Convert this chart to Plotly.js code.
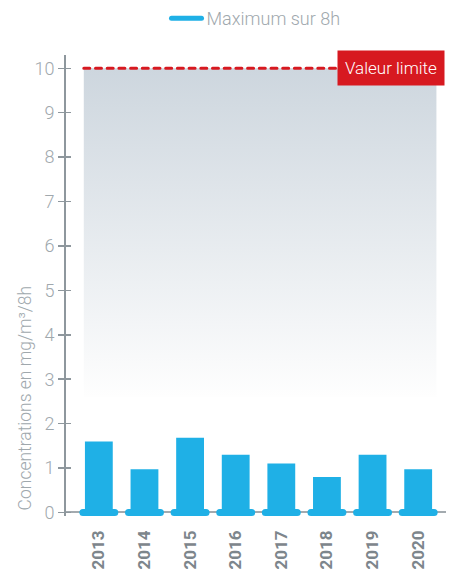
<!DOCTYPE html>
<html>
<head>
<meta charset="utf-8">
<script src="https://cdn.plot.ly/plotly-3.0.1.min.js"></script>
<style>
  html, body { margin: 0; padding: 0; background: #fff; }
  #chart { width: 452px; height: 578px; }
  /* rounded ends for the base caps and legend line */
  .js-line { stroke-linecap: round; }
</style>
</head>
<body>
<div id="chart"></div>
<script>
// Annual values, mg/m3 over 8h
const years = ['2013', '2014', '2015', '2016', '2017', '2018', '2019', '2020'];
const maxValues = [1.6, 0.97, 1.68, 1.3, 1.1, 0.8, 1.3, 0.97];
const limitValue = 10;
const limitLabel = 'Valeur limite';
const seriesName = 'Maximum sur 8h';
const yTicks = [0, 1, 2, 3, 4, 5, 6, 7, 8, 9, 10];

const blue = '#1fb0e6';
const red = '#d71920';
const grey = '#a0a8ad';
const axisGrey = '#8e979d';

const idx = years.map((_, i) => i);

// base caps under each bar
const capX = [], capY = [];
idx.forEach(i => { capX.push(i - 0.35, i + 0.35, null); capY.push(0, 0, null); });

// shaded zone below the limit
const zoneLeft = -0.33, zoneRight = 7.4, zoneBottom = 2.6;

const traces = [
  {
    type: 'scatter', mode: 'lines',
    x: [zoneLeft, zoneRight, zoneRight, zoneLeft, zoneLeft],
    y: [zoneBottom, zoneBottom, limitValue, limitValue, zoneBottom],
    fill: 'toself', line: {width: 0},
    fillgradient: {type: 'vertical', colorscale: [[0, 'rgb(254,254,254)'], [1, '#cdd6de']]},
    hoverinfo: 'skip', showlegend: false
  },
  {
    type: 'bar', x: idx, y: maxValues, width: 0.61,
    marker: {color: blue, line: {width: 0}}, showlegend: false
  },
  {
    type: 'scatter', mode: 'lines', x: capX, y: capY,
    line: {color: blue, width: 7}, cliponaxis: false,
    hoverinfo: 'skip', showlegend: false
  },
  {
    type: 'scatter', mode: 'lines', x: [zoneLeft, 5.2], y: [limitValue, limitValue],
    line: {color: red, width: 3, dash: '6px,5.7px'},
    hoverinfo: 'skip', showlegend: false
  },
  {
    type: 'scatter', mode: 'lines', x: [null], y: [null], name: seriesName,
    line: {color: blue, width: 5}, showlegend: true
  },
  // inner half of the y tick marks
  {type: 'scatter', x: [null], y: [null], yaxis: 'y2', showlegend: false, hoverinfo: 'skip'}
];

const yRange = [-0.08, 10.3];

const layout = {
  width: 452, height: 578,
  margin: {l: 66, r: 6, t: 55, b: 62},
  paper_bgcolor: '#fff', plot_bgcolor: 'rgba(0,0,0,0)',
  font: {family: 'Roboto, sans-serif', color: grey},
  showlegend: true,
  legend: {
    orientation: 'h', x: 0.5, xanchor: 'center', y: 1, yref: 'container', yanchor: 'top',
    font: {size: 18, color: grey, weight: 300}, itemwidth: 30
  },
  xaxis: {
    range: [-0.72, 7.61], tickvals: idx, ticktext: years,
    tickangle: -90, ticks: '', ticklabelstandoff: 10,
    tickfont: {size: 17, color: '#7d868c', weight: 'bold'},
    showline: false, showgrid: false, zeroline: false, fixedrange: true
  },
  yaxis: {
    range: yRange, tickvals: yTicks,
    ticks: 'outside', ticklen: 6, tickcolor: axisGrey, tickwidth: 1.5,
    tickfont: {size: 18, color: grey, weight: 300},
    showline: true, linecolor: axisGrey, linewidth: 2,
    showgrid: false, zeroline: true, zerolinecolor: '#a3aaaf', zerolinewidth: 2,
    fixedrange: true
  },
  yaxis2: {
    overlaying: 'y', range: yRange, tickvals: yTicks,
    ticks: 'inside', ticklen: 5, tickcolor: axisGrey, tickwidth: 1.5,
    showticklabels: false, showline: false, showgrid: false, zeroline: false
  },
  annotations: [
    {
      text: 'Concentrations en mg/m³/8h', textangle: -90,
      xref: 'paper', x: -0.108, xanchor: 'center',
      yref: 'y', y: 0, yanchor: 'bottom',
      showarrow: false, font: {size: 17.5, color: grey, weight: 300}
    },
    {
      text: limitLabel, xref: 'x', x: 7.59, xanchor: 'right',
      yref: 'y', y: limitValue, yanchor: 'middle',
      showarrow: false, bgcolor: red, borderpad: 7,
      font: {size: 17, color: '#fff', weight: 300}
    }
  ]
};

Plotly.newPlot('chart', traces, layout, {displayModeBar: false, staticPlot: true});
</script>
</body>
</html>
